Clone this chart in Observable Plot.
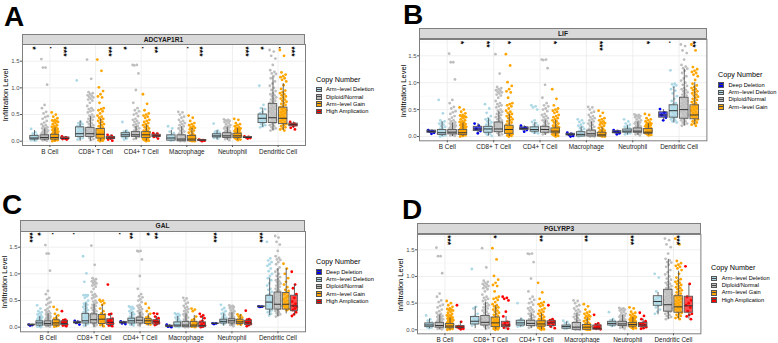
<!DOCTYPE html>
<html><head><meta charset="utf-8">
<script src="https://cdn.jsdelivr.net/npm/d3@7"></script>
<script src="https://cdn.jsdelivr.net/npm/@observablehq/plot@0.6"></script>
<style>
html,body{margin:0;padding:0;background:#fff;font-family:"Liberation Sans",Arial,sans-serif}
#root{position:relative;width:778px;height:343px;overflow:hidden}
#root>*{position:absolute}
.strip{box-sizing:border-box;background:#d9d9d9;border:1px solid #7f7f7f;text-align:center;font-weight:bold;font-size:6.6px;color:#1a1a1a}
.letter{font-weight:bold;font-size:28px;line-height:28px;color:#000}
.ltitle{font-size:7.2px;line-height:8px;color:#000;white-space:nowrap}
.litem{font-size:5.7px;line-height:7px;color:#000;white-space:nowrap}
.key{box-sizing:border-box;width:6px;height:5.5px;border:1px solid #555}
</style></head><body><div id="root"></div>
<script>
const cells = ["B Cell","CD8+ T Cell","CD4+ T Cell","Macrophage","Neutrophil","Dendritic Cell"];
const copyNames = ["Deep Deletion","Arm\u2212level Deletion","Diploid/Normal","Arm\u2212level Gain","High Amplication"];
const copyColors = ["#0000ee","#add8e6","#bebebe","#ffa500","#ff0000"];

// Point values, one list per cell type
const diploid = [
 [1.54,1.38,1.38,1.06,.68,.62,.55,.52,.47,.45,.42,.38,.35,.32,.3,.28,.26,.25,.24,.22,.21,.2,.19,.18,.17,.16,.15,.14,.13,.12,.12,.11,.1,.1,.09,.09,.08,.08,.07,.07,.06,.05,.04,.03,.02,.01],
 [1.53,1.17,.92,.9,.88,.86,.85,.83,.82,.8,.78,.76,.72,.66,.62,.6,.58,.56,.54,.5,.48,.46,.44,.42,.4,.38,.36,.34,.32,.3,.28,.26,.24,.22,.2,.18,.16,.14,.12,.1,.08,.06,.04,.02],
 [1.43,1.43,1.42,1.27,.96,.72,.62,.58,.56,.52,.5,.47,.42,.4,.38,.36,.34,.32,.3,.28,.26,.24,.22,.2,.18,.16,.14,.12,.1,.08,.06,.04],
 [.55,.54,.5,.46,.44,.4,.38,.36,.34,.32,.3,.28,.26,.24,.22,.2,.18,.16,.14,.12,.1,.08,.06,.05,.04,.03,.02,.01,0,0],
 [.41,.4,.39,.38,.37,.36,.34,.32,.3,.28,.27,.26,.25,.24,.22,.2,.19,.18,.17,.16,.15,.14,.13,.12,.11,.1,.09,.08,.07,.06,.05,.04,.02],
 [1.71,1.68,1.6,1.55,1.43,1.33,1.3,1.27,1.26,1.22,1.18,1.12,1.08,1.04,1,.96,.94,.9,.88,.86,.84,.82,.8,.78,.76,.74,.72,.7,.68,.66,.64,.62,.6,.58,.56,.54,.52,.5,.48,.46,.44,.42,.4,.38,.36,.34,.32,.3,.28,.26,.24,.22,.2]
];
const gain = [
 [.54,.5,.46,.43,.4,.39,.38,.37,.36,.34,.32,.3,.28,.27,.26,.24,.23,.22,.21,.2,.19,.18,.17,.16,.15,.14,.13,.12,.11,.1,.09,.08,.07,.06,.05,.04,.03,.02,.01,0],
 [1.53,1.32,1.01,.94,.88,.84,.82,.72,.62,.6,.58,.56,.52,.48,.46,.44,.42,.4,.38,.36,.34,.32,.3,.28,.26,.24,.22,.2,.18,.17,.16,.15,.14,.13,.12,.11,.1,.09,.08,.07,.06,.05,.04,.03,.02,.01,0],
 [.88,.7,.58,.52,.5,.48,.46,.44,.4,.38,.36,.34,.32,.3,.28,.26,.24,.22,.2,.19,.18,.17,.16,.15,.14,.13,.12,.11,.1,.09,.08,.07,.06,.05,.04,.03,.02,.01,0],
 [.48,.44,.38,.34,.32,.3,.28,.26,.25,.24,.22,.2,.18,.16,.14,.12,.11,.1,.09,.08,.07,.06,.05,.04,.03,.02,.02,.01,.01,0,0],
 [.42,.4,.34,.32,.3,.28,.26,.25,.24,.23,.22,.21,.2,.19,.18,.17,.16,.15,.14,.13,.12,.11,.1,.09,.08,.07,.06,.05,.04,.03,.02],
 [1.71,1.6,1.29,1.25,1.22,1.2,1.18,1.15,1.12,1.05,.98,.95,.92,.9,.88,.86,.84,.82,.8,.78,.76,.74,.72,.7,.68,.66,.64,.62,.6,.58,.56,.54,.52,.5,.48,.46,.44,.42,.4,.38,.36,.34,.32,.3,.28,.26,.24,.22,.2]
];
const gainC = [
 [.38,.33,.25,.22,.18,.16,.14,.13,.12,.1,.09,.08,.07,.06,.05,.04,.03,.02,.01],
 [.51,.5,.48,.45,.42,.35,.3,.26,.24,.22,.2,.18,.16,.14,.12,.1,.08,.06,.04,.02],
 [.44,.36,.3,.25,.2,.18,.16,.14,.13,.12,.11,.1,.09,.08,.07,.06,.05],
 [.35,.33,.3,.2,.15,.13,.1,.08,.06,.05,.04,.03,.02,.01,0],
 [.24,.22,.2,.18,.16,.14,.13,.12,.11,.1,.09,.08,.07,.06,.05],
 [1.19,1.1,1,.92,.85,.8,.75,.7,.68,.65,.62,.58,.55,.52,.5,.47,.44,.42,.4,.38,.36,.34,.32]
];
const armDelA = [
 [.23,.17,.14,.12,.1,.09,.08,.07,.06,.05,.04,.03,.02,.02,.01],
 [1.14,.36,.34,.32,.3,.28,.26,.24,.22,.2,.18,.16,.14,.12,.1,.08,.06,.05,.03],
 [.36,.2,.18,.17,.16,.15,.14,.13,.12,.11,.1,.09,.08,.07,.05,.03],
 [.28,.24,.18,.15,.12,.1,.08,.06,.05,.04,.03,.02,.01],
 [.33,.2,.18,.16,.15,.14,.13,.12,.11,.1,.09,.08,.07,.06,.05],
 [1.04,.68,.62,.6,.55,.52,.5,.48,.46,.44,.42,.4,.38,.36,.34,.32,.3,.28,.26]
];
const armDelB = [
 [.68,.43,.3,.28,.26,.24,.22,.2,.18,.16,.14,.12,.11,.1,.09,.08,.07,.06,.05,.04,.03,.02,.01,0],
 [.6,.52,.44,.38,.34,.32,.3,.28,.26,.24,.22,.2,.18,.16,.14,.12,.1,.08,.06,.05,.03,.01],
 [.58,.56,.54,.5,.3,.27,.25,.22,.2,.18,.17,.16,.15,.14,.13,.12,.11,.1,.09,.08,.07,.06],
 [.32,.3,.27,.25,.22,.2,.18,.16,.14,.12,.1,.08,.06,.05,.04,.03,.02,.01,0],
 [.32,.28,.24,.22,.2,.18,.16,.15,.14,.13,.12,.11,.1,.09,.08,.07,.06,.05,.04],
 [1.23,.98,.97,.95,.92,.88,.85,.8,.75,.7,.66,.62,.6,.58,.56,.54,.52,.5,.48,.46,.44,.42,.4,.38,.36,.34,.32,.3,.28,.26]
];
const armDelC = [
 [.41,.35,.3,.28,.26,.24,.22,.2,.19,.18,.17,.16,.15,.14,.13,.12,.11,.1,.09,.08,.07,.06,.05,.04,.03,.02,.01,0],
 [1.33,1.01,.85,.6,.6,.6,.58,.55,.5,.46,.44,.42,.4,.38,.36,.34,.32,.3,.28,.26,.24,.22,.2,.18,.16,.14,.12,.1,.08,.06,.05,.03],
 [.39,.38,.37,.35,.33,.3,.28,.26,.24,.22,.2,.18,.16,.15,.14,.13,.12,.11,.1,.09,.08,.07,.06,.05,.03],
 [.26,.25,.24,.22,.2,.18,.16,.14,.12,.1,.09,.08,.07,.06,.05,.04,.03,.02,.01,0],
 [.42,.36,.33,.3,.27,.25,.23,.2,.18,.17,.16,.15,.14,.13,.12,.11,.1,.09,.08,.07,.06],
 [1.6,1.29,1.25,1.22,1.18,1.15,1.1,1.05,1,.96,.92,.88,.82,.78,.72,.7,.66,.62,.6,.58,.55,.52,.5,.48,.45,.42,.4,.38,.35,.32,.3,.28,.25,.22]
];
const armDelD = [
 [.27,.2,.17,.14,.12,.1,.09,.08,.07,.06,.05,.04,.03],
 [1.14,.43,.4,.3,.26,.24,.22,.2,.18,.16,.14,.12,.1,.08],
 [.5,.2,.18,.17,.15,.14,.13,.12,.11,.1,.09,.08,.07,.06],
 [.17,.15,.13,.1,.08,.07,.06,.05,.04,.03,.02],
 [.33,.2,.18,.16,.15,.14,.13,.12,.11,.1,.09,.08,.07],
 [1.05,.98,.72,.62,.6,.56,.53,.5,.48,.45,.42,.38,.34,.3]
];
const highA = [
 [.09,.07,.06,.05,.05,.04,.03],[.12,.1,.08,.07,.05,.03,.01],[.15,.14,.12,.1,.09,.08,.05],
 [.03,.02,.02,.01,0],[.09,.08,.07,.06,.05],[.36,.33,.32,.3,.28,.25,.22]
];
const highC = [
 [.3,.14,.13,.12,.1,.09,.08,.07,.05,.04,.03,.02],[.8,.25,.24,.16,.14,.12,.1,.09,.07,.05,.03,.02],
 [.26,.25,.2,.17,.14,.12,.1,.09,.08,.06,.04],[.25,.22,.2,.17,.12,.1,.08,.05,.03,.01,0],
 [.31,.15,.14,.13,.12,.1,.09,.08,.06,.04,.02],[1.04,.8,.73,.62,.55,.48,.44,.4,.38,.35,.32,.28,.24,.21]
];
const highD = [
 [.46,.15,.07,.06,.05,.05,.04,.03,.02,.01],[.62,.6,.58,.55,.34,.25,.15,.12,.09,.07,.04,.02],
 [.46,.2,.18,.16,.14,.12,.09,.06,.03],[.28,.12,.1,.08,.06,.04,.03,.02,.01],
 [.32,.26,.2,.16,.13,.11,.09,.07,.05,.03,.02],[1.19,.86,.62,.55,.5,.46,.42,.35,.3,.28,.25,.2]
];
const deepB = [[.12,.1,.09,.07,.05],[.24,.2,.14,.1,.06],[.2,.17,.14,.12,.09],[.07,.05,.03,.01,0],[.12,.1,.08,.06,.04],[.51,.45,.4,.35,.3]];
const deepC = [[.05,.04,.03],[.12,.1,.08,.05],[.11,.09,.07,.06],[.05,.02,.01,0],[.07,.07,.06],[.39,.385,.38]];

// Box summaries: [low whisker, q1, median, q3, high whisker], per group, per cell type
const boxA = [
 [[0,.03,.06,.1,.2],[0,.03,.07,.11,.23],[0,.03,.07,.12,.25],[.02,.04,.05,.07,.09]],
 [[0,.08,.14,.26,.38],[0,.08,.14,.25,.46],[0,.05,.13,.23,.42],[.02,.04,.06,.08,.12]],
 [[.03,.08,.12,.15,.2],[.02,.08,.12,.17,.28],[0,.06,.12,.17,.3],[.05,.08,.1,.12,.15]],
 [[0,.01,.06,.11,.2],[0,0,.04,.11,.27],[0,0,.04,.1,.24],[0,.01,.02,.02,.03]],
 [[.02,.07,.1,.13,.2],[.02,.06,.1,.15,.26],[.02,.06,.1,.14,.24],[.05,.06,.07,.08,.09]],
 [[.26,.34,.43,.5,.62],[.2,.34,.44,.7,1.2],[.2,.32,.43,.63,1.08],[.24,.28,.31,.33,.36]]
];
const boxB = [
 [[.05,.07,.09,.11,.12],[0,.03,.07,.12,.27],[0,.04,.08,.12,.25],[0,.03,.07,.12,.25]],
 [[.06,.1,.14,.18,.24],[.01,.07,.14,.18,.33],[0,.08,.14,.26,.46],[0,.05,.13,.2,.42]],
 [[.09,.12,.15,.17,.2],[.04,.09,.13,.17,.26],[.02,.07,.13,.18,.3],[0,.06,.1,.15,.3]],
 [[0,.02,.04,.05,.07],[0,0,.04,.08,.18],[0,0,.05,.11,.27],[0,0,.03,.07,.17]],
 [[.04,.06,.08,.1,.12],[.03,.07,.1,.13,.2],[.02,.07,.1,.15,.27],[.02,.05,.08,.14,.24]],
 [[.3,.35,.4,.45,.5],[.25,.35,.48,.58,.92],[.2,.33,.5,.72,1.25],[.22,.32,.4,.58,1]]
];
const boxC = [
 [[.03,.04,.04,.05,.05],[0,.03,.08,.11,.2],[0,.03,.07,.11,.25],[0,.03,.08,.13,.22],[.02,.04,.07,.11,.14]],
 [[.05,.07,.09,.1,.12],[0,.07,.12,.25,.45],[0,.07,.14,.24,.43],[0,.06,.15,.23,.42],[0,.04,.09,.15,.25]],
 [[.06,.07,.09,.1,.11],[.02,.07,.12,.16,.28],[0,.07,.13,.18,.28],[.02,.06,.12,.15,.25],[.02,.05,.1,.13,.2]],
 [[0,.01,.02,.03,.05],[0,.01,.04,.09,.2],[0,0,.04,.1,.25],[0,0,.04,.1,.22],[0,0,.03,.09,.2]],
 [[.06,.06,.07,.07,.07],[.02,.07,.11,.14,.25],[.02,.07,.12,.15,.27],[.02,.06,.1,.14,.24],[.02,.04,.08,.12,.15]],
 [[.38,.38,.385,.39,.39],[.22,.33,.47,.59,.92],[.2,.33,.43,.65,1.1],[.25,.33,.43,.64,1.1],[.22,.3,.4,.59,.8]]
];
const boxD = [
 [[.02,.05,.09,.12,.2],[0,.04,.08,.13,.28],[0,.03,.07,.11,.22],[0,.03,.05,.07,.15]],
 [[.02,.1,.16,.24,.43],[0,.08,.14,.26,.52],[0,.05,.13,.23,.45],[0,.05,.09,.15,.25]],
 [[.05,.08,.13,.17,.22],[.02,.07,.12,.17,.3],[0,.06,.11,.16,.3],[.02,.07,.13,.16,.2]],
 [[0,.02,.06,.08,.15],[0,0,.05,.13,.3],[0,0,.05,.09,.22],[0,0,.03,.08,.12]],
 [[.05,.08,.12,.15,.2],[.02,.07,.11,.15,.27],[.02,.06,.1,.13,.23],[.02,.05,.09,.13,.2]],
 [[.28,.45,.53,.63,.7],[.2,.34,.47,.75,1.32],[.2,.32,.43,.63,1.1],[.2,.32,.45,.62,.85]]
];

// Significance labels: [cell index, group index, label]
const sigA = [[0,0,"*"],[0,2,"."],[0,3,"***"],[1,3,"***"],[2,0,"*"],[2,2,"."],[2,3,"**"],[3,2,"."],[3,3,"***"],[4,3,"***"],[5,0,"*"],[5,2,"."],[5,3,"***"]];
const sigB = [[0,3,"*"],[1,1,"**"],[1,3,"*"],[2,3,"*"],[3,3,"***"],[4,3,"*"],[5,1,"."],[5,3,"**"]];
const sigC = [[0,0,"***"],[0,1,"*"],[0,3,"."],[1,0,"."],[2,0,"."],[2,1,"**"],[2,3,"*"],[2,4,"**"],[4,0,"***"],[5,0,"***"]];
const sigD = [[0,2,"***"],[1,2,"*"],[2,2,"**"],[3,2,"**"],[4,2,"***"],[5,2,"***"]];

const panels = [
 {letter:"A",lx:4,ly:3,gene:"ADCYAP1R1",groups:[1,2,3,4],lists:[armDelA,diploid,gain,highA],box:boxA,sig:sigA,
  left:22,right:305,stripTop:34,top:44,bottom:145,y0:140.7,y15:60.7,titleX:5,tx:316,ty:76,items:[86,93.5,100.5,108],ix:326},
 {letter:"B",lx:403,ly:1,gene:"LIF",groups:[0,1,2,3],lists:[deepB,armDelB,diploid,gain],box:boxB,sig:sigB,
  left:419.3,right:706.7,stripTop:28.3,top:39,bottom:140.3,y0:136,y15:55.3,titleX:402.7,tx:718,ty:70.5,items:[81.5,88.8,96,103.5],ix:728.5},
 {letter:"C",lx:2,ly:191,gene:"GAL",groups:[0,1,2,3,4],lists:[deepC,armDelC,diploid,gainC,highC],box:boxC,sig:sigC,
  left:20,right:305,stripTop:220,top:231,bottom:331.3,y0:326.7,y15:246.7,titleX:3.5,tx:316,ty:258,items:[268.5,276,283,290.5,298],ix:326},
 {letter:"D",lx:402,ly:196,gene:"PGLYRP3",groups:[1,2,3,4],lists:[armDelD,diploid,gain,highD],box:boxD,sig:sigD,
  left:417.3,right:700.7,stripTop:222.7,top:234,bottom:333.3,y0:329.3,y15:249.3,titleX:400,tx:711,ty:264,items:[275,282,289.3,296.5],ix:721.7}
];

const root = document.getElementById("root");
function add(cls, css, text){
  const e=document.createElement("div"); e.className=cls;
  Object.assign(e.style,css); if(text!=null) e.textContent=text; root.appendChild(e); return e;
}
const colorOf = Object.fromEntries(copyNames.map((n,i)=>[n,copyColors[i]]));

for(const p of panels){
  const n=p.groups.length, step=0.9/n, boxW=step*0.82;
  const center=(c,g)=>c+1+(g-(n-1)/2)*step;
  const pts=[],boxes=[],sig=[];
  p.lists.forEach((list,g)=>list.forEach((vals,c)=>vals.forEach((v,i)=>{
    // sideways spread of the points inside their group (layout only)
    const spread=((i*0.618034)%1-0.5)*boxW*0.8;
    pts.push({x:center(c,g)+spread,v,copy:copyNames[p.groups[g]]});
  })));
  p.box.forEach((row,c)=>row.forEach((b,g)=>boxes.push({
    x:center(c,g),x1:center(c,g)-boxW/2,x2:center(c,g)+boxW/2,
    lo:b[0],q1:b[1],med:b[2],q3:b[3],hi:b[4],copy:copyNames[p.groups[g]]})));
  p.sig.forEach(([c,g,t])=>sig.push({x:center(c,g),t}));

  const unit=(p.y0-p.y15)/1.5;
  const yTop=(p.y0-p.top)/unit, yBot=(p.y0-p.bottom)/unit;
  const svgLeft=p.left-22, W=(p.right-svgLeft)+1;
  const chart=Plot.plot({
    width:W, height:(p.bottom-p.top)+12,
    marginLeft:p.left-svgLeft, marginRight:1, marginTop:0, marginBottom:12,
    style:{background:"transparent",fontFamily:"Liberation Sans, Arial, sans-serif",overflow:"visible"},
    x:{type:"linear",domain:[0.4,6.6]},
    y:{type:"linear",domain:[yBot,yTop]},
    color:{domain:copyNames,range:copyColors},
    marks:[
      Plot.gridY([.25,.75,1.25,1.75],{stroke:"#f0f0f0",strokeOpacity:1,strokeWidth:.4}),
      Plot.gridY([0,.5,1,1.5],{stroke:"#ebebeb",strokeOpacity:1,strokeWidth:.8}),
      Plot.gridX([1,2,3,4,5,6],{stroke:"#ebebeb",strokeOpacity:1,strokeWidth:.8}),
      Plot.dot(pts,{x:"x",y:"v",fill:"copy",r:1.4,stroke:"none",clip:true}),
      Plot.ruleX(boxes,{x:"x",y1:"lo",y2:"q1",stroke:"#444",strokeWidth:.8}),
      Plot.ruleX(boxes,{x:"x",y1:"q3",y2:"hi",stroke:"#444",strokeWidth:.8}),
      Plot.rect(boxes,{x1:"x1",x2:"x2",y1:"q1",y2:"q3",fill:"copy",fillOpacity:.7,stroke:"#5a5a5a",strokeWidth:.9}),
      Plot.ruleY(boxes,{x1:"x1",x2:"x2",y:"med",stroke:"#333",strokeWidth:1}),
      Plot.text(sig,{x:"x",y:1.775,text:"t",rotate:90,textAnchor:"start",dx:-2,fontSize:8.5,fontWeight:"bold",fill:"#000"}),
      Plot.frame({stroke:"#7f7f7f",strokeWidth:1}),
      Plot.axisX({ticks:[1,2,3,4,5,6],tickFormat:d=>cells[d-1],tickSize:2,tickPadding:1.5,fontSize:6.4,label:null,stroke:"#555",color:"#222"}),
      Plot.axisY({ticks:[0,.5,1,1.5],tickFormat:".1f",tickSize:2,tickPadding:1,fontSize:6,label:null,stroke:"#555",color:"#4d4d4d"})
    ]
  });
  chart.style.left=svgLeft+"px"; chart.style.top=p.top+"px"; chart.style.height=(p.bottom-p.top+12)+"px";
  root.appendChild(chart);

  add("strip",{left:p.left+"px",top:p.stripTop+"px",width:(p.right-p.left)+"px",height:(p.top-p.stripTop+.5)+"px",lineHeight:(p.top-p.stripTop-1)+"px"},p.gene);
  add("letter",{left:p.lx+"px",top:p.ly+"px"},p.letter);

  const t=document.createElement("div");
  t.textContent="Infiltration Level";
  Object.assign(t.style,{left:p.titleX+"px",top:((p.top+p.y0)/2+3)+"px",fontSize:"7.5px",whiteSpace:"nowrap",color:"#000",transform:"translate(-50%,-50%) rotate(-90deg)"});
  root.appendChild(t);

  add("ltitle",{left:p.tx+"px",top:p.ty+"px"},"Copy Number");
  p.groups.forEach((g,i)=>{
    const k=add("key",{left:p.tx+"px",top:(p.items[i]+.7)+"px",background:colorOf[copyNames[g]]});
    const mid=document.createElement("div");
    Object.assign(mid.style,{position:"absolute",left:"0",right:"0",top:"1.3px",height:".9px",background:"#444"});
    k.appendChild(mid);
    add("litem",{left:p.ix+"px",top:p.items[i]+"px"},copyNames[g]);
  });
}
</script></body></html>
